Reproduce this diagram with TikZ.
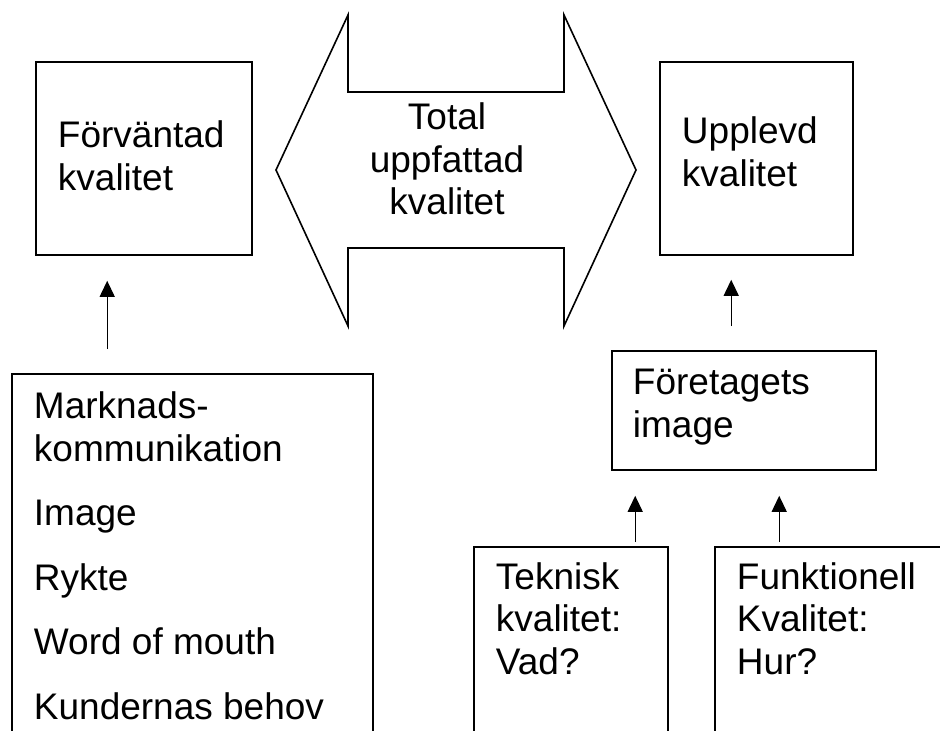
\documentclass[tikz,border=0pt]{standalone}
\usepackage{fontspec}
\setmainfont{Liberation Sans}
\usetikzlibrary{arrows.meta, positioning}
\tikzset{every picture/.style={line width=0.75pt}}

\begin{document}
\begin{tikzpicture}[x=0.5pt, y=-0.5pt,
    box/.style={draw, line width=0.8pt, inner sep=0pt},
    txt/.style={inner sep=0pt, align=left, anchor=base west, font=\fontsize{18.5pt}{21.25pt}\selectfont},
    feed/.style={-{Triangle[length=8pt,width=7.5pt]}, line width=0.6pt}]
    \useasboundingbox (0,0) rectangle (940,731);
    \clip (0,0) rectangle (940,731);

    % boxes
    \node[box, minimum width=108pt, minimum height=96.5pt] (expect) at (144,158.5) {};
    \node[box, minimum width=96.5pt, minimum height=96.5pt] (perceived) at (756.5,158.5) {};
    \node[box, minimum width=180.5pt, minimum height=193pt] (sources) at (192.5,567) {};
    \node[box, minimum width=132pt, minimum height=59.5pt] (image) at (744,410.5) {};
    \node[box, minimum width=97pt, minimum height=106.5pt] (tech) at (571,653.5) {};
    \node[box, minimum width=132.5pt, minimum height=106.5pt] (func) at (847.5,653.5) {};

    % double arrow
    \draw[line width=0.8pt] (276,170) -- (348,15) -- (348,92) -- (564,92) -- (564,15)
        -- (636,170) -- (564,326) -- (564,248) -- (348,248) -- (348,326) -- cycle;
    \node[txt, align=center, anchor=base] (total) at (447,215) {Total\\uppfattad\\kvalitet};

    % texts (anchored at the last line)
    \node[txt] (expecttxt) at ([shift={(22,129)}]expect.north west) {Förväntad\\kvalitet};
    \node[txt] (perceivedtxt) at ([shift={(22,125)}]perceived.north west) {Upplevd\\kvalitet};
    \node[txt] (imagetxt) at ([shift={(21,87)}]image.north west) {Företagets\\image};
    \node[txt] (sourcestxt) at ([shift={(22,346)}]sources.north west)
        {Marknads-\\kommunikation\\[11pt]Image\\[11pt]Rykte\\[11pt]Word of mouth\\[11pt]Kundernas behov};
    \node[txt] (techtxt) at ([shift={(22,128)}]tech.north west) {Teknisk\\kvalitet:\\Vad?};
    \node[txt] (functxt) at ([shift={(22,128)}]func.north west) {Funktionell\\Kvalitet:\\Hur?};

    % arrows
    \draw[feed] ([shift={(96,-24)}]sources.north west) -- ([shift={(72,25)}]expect.south west);
    \draw[feed] ([shift={(120,-24)}]image.north west) -- ([shift={(72,24)}]perceived.south west);
    \draw[feed] ([shift={(162,-4)}]tech.north west) -- ([shift={(24,25)}]image.south west);
    \draw[feed] ([shift={(65,-4)}]func.north west) -- ([shift={(168,25)}]image.south west);
\end{tikzpicture}
\end{document}
